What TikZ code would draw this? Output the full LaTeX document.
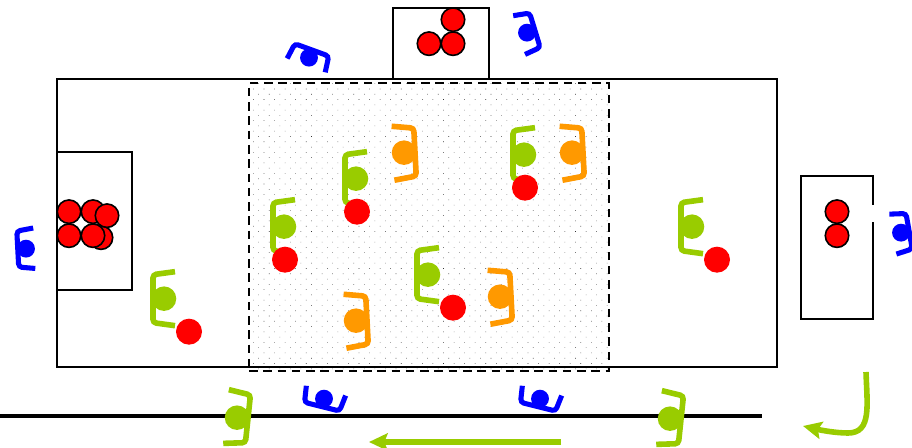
\documentclass[tikz,border=0pt]{standalone}
\usepackage{xcolor}
\usetikzlibrary{arrows.meta, patterns.meta}
\definecolor{TeamGreen}{RGB}{153,204,0}
\definecolor{TeamOrange}{RGB}{255,153,0}
\definecolor{TeamBlue}{RGB}{0,0,255}
\definecolor{BallRed}{RGB}{255,0,0}

\begin{document}
\begin{tikzpicture}[
  x=0.75pt, y=-0.75pt,
  ball/.style={circle, fill=BallRed, minimum size=19.5pt, inner sep=0pt, outer sep=0pt},
  stock/.style={circle, draw=black, line width=1.2pt, fill=BallRed, minimum size=17.6pt, inner sep=0pt, outer sep=0pt},
  greenman/.style={circle, fill=TeamGreen, minimum size=18.4pt, inner sep=0pt, outer sep=0pt},
  orangeman/.style={circle, fill=TeamOrange, minimum size=18.4pt, inner sep=0pt, outer sep=0pt},
  blueman/.style={circle, fill=TeamBlue, minimum size=13.4pt, inner sep=0pt, outer sep=0pt},
  zone/.style={draw=black, line width=1.2pt},
  movearrow/.style={draw=TeamGreen, line width=4.2pt, -{Stealth[length=14pt, width=13pt, inset=2.5pt]}},
  bracket/.pic={
    \draw[pic actions, rounded corners=2.5pt]
      (11,-27) -- (-11,-24) -- (-11,24) -- (11,27);
  },
]
\useasboundingbox (0,0) rectangle (912,448);

% Field and the shaded middle
\node[zone, fill=white, minimum width=540pt, minimum height=216pt, inner sep=0pt] (field) at (417,223) {};
\node[draw=black, line width=1.2pt, dash pattern=on 6.4pt off 4.3pt, minimum width=270pt, minimum height=216pt, inner sep=0pt,
      pattern={Dots[radius=0.3pt, distance=5.6pt, angle=45]}, pattern color=black!80] (middle) at (429,227) {};

% Boxes
\node[zone, minimum width=56.2pt, minimum height=103.5pt, inner sep=0pt] (leftbox) at (94.5,221) {};
\node[zone, minimum width=72pt, minimum height=53.2pt, inner sep=0pt] (topbox) at (441,43.5) {};
\coordinate (doorA) at (873,205);
\coordinate (doorB) at (873,222);
\draw[zone] (doorA) -- (873,176) -- (801,176) -- (801,319) -- (873,319) -- (doorB);

% Bottom line
\coordinate (lineA) at (0,416);
\coordinate (lineB) at (762,416);
\draw[line width=2.6pt] (lineA) -- (lineB);

\begin{scope}[yshift=-0.5pt]
% Players
\foreach \i/\x/\y in {1/164/298, 2/356/178, 3/284/226, 4/428/274, 5/524/154, 6/692/226}
{
  \pic[draw=TeamGreen, line width=4.2pt] at (\x,\y) {bracket};
  \node[greenman] (g\i) at (\x,\y) {};
}
\foreach \i/\x/\y/\r in {7/237/417/174, 8/670/418/174}
{
  \pic[draw=TeamGreen, line width=4.2pt, rotate=\r] at (\x,\y) {bracket};
  \node[greenman] (g\i) at (\x,\y) {};
}
\foreach \i/\x/\y in {1/404/152, 2/572/152, 3/500/296, 4/356/320}
{
  \pic[draw=TeamOrange, line width=4.2pt, rotate=183] at (\x,\y) {bracket};
  \node[orangeman] (o\i) at (\x,\y) {};
}
\foreach \i/\x/\y/\r in {1/26/248/3, 2/309/57/250, 3/527/32/197, 4/901/232/190, 5/324/398/76, 6/540/398/76}
{
  \pic[draw=TeamBlue, line width=3.8pt, rotate=\r, scale=0.75] at (\x,\y) {bracket};
  \node[blueman] (b\i) at (\x,\y) {};
}

% Balls in play
\foreach \i/\x/\y in {1/357/211, 2/285/259, 3/453/307, 4/525/187, 5/717/259, 6/189/331}
{
  \node[ball] (r\i) at (\x,\y) {};
}
% Balls in the boxes
\foreach \i/\x/\y in {1/453/19, 2/429/43, 3/453/43, 4/101/237, 5/69/211, 6/93/211, 7/107/215,
                      8/69/235, 9/93/235, 10/837/211, 11/837/235}
{
  \node[stock] (s\i) at (\x,\y) {};
}
\end{scope}

% Direction arrows
\coordinate (runA) at (561,442);
\coordinate (runB) at (369,442);
\draw[movearrow] (runA) -- (runB);
\coordinate (turnA) at (866,372);
\coordinate (turnB) at (803,426);
\draw[movearrow] (turnA) .. controls (867,405) and (872,433) .. (848,433)
            .. controls (835,433) and (820,430) .. (turnB);
\end{tikzpicture}
\end{document}
